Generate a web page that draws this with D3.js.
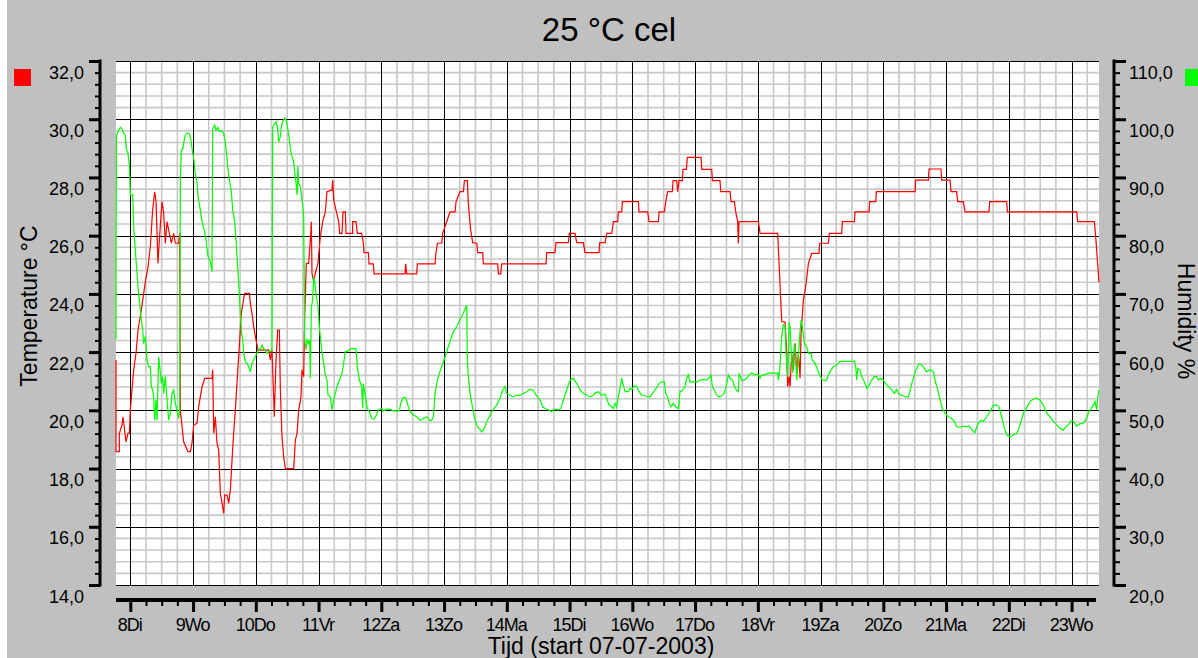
<!DOCTYPE html>
<html>
<head>
<meta charset="utf-8">
<script src="https://cdn.jsdelivr.net/npm/d3@7"></script>
<style>
  html, body { margin: 0; padding: 0; background: #fff; }
  svg { display: block; }
  text { font-family: "Liberation Sans", Arial, sans-serif; fill: #000; }
</style>
</head>
<body>
<svg id="chart"></svg>
<script>
// Data
const chartTitle = '25 °C cel';
const xTitle = 'Tijd (start 07-07-2003)';
const leftTitle = 'Temperature °C';
const rightTitle = 'Humidity %';

const days = [8, 9, 10, 11, 12, 13, 14, 15, 16, 17, 18, 19, 20, 21, 22, 23];
const dayNames = ['Di', 'Wo', 'Do', 'Vr', 'Za', 'Zo', 'Ma', 'Di', 'Wo', 'Do', 'Vr', 'Za', 'Zo', 'Ma', 'Di', 'Wo'];
const tempTicks = [14, 16, 18, 20, 22, 24, 26, 28, 30, 32];
const humTicks = [20, 30, 40, 50, 60, 70, 80, 90, 100, 110];

// [day of July, temperature °C]
const tempData = [
  [7.772,21.73],[7.772,18.58],[7.825,18.58],[7.825,19.21],[7.868,19.5],[7.884,19.78],[7.931,18.92],[7.963,19.21],[7.985,19.21],
  [8.0,20.01],[8.054,21.39],[8.091,21.96],[8.123,22.76],[8.176,23.45],[8.213,24.02],[8.24,24.42],[8.282,24.93],[8.319,25.62],
  [8.356,26.88],[8.388,27.51],[8.41,27.17],[8.441,25.05],[8.463,25.85],[8.505,27.17],[8.532,26.77],[8.558,25.74],[8.585,26.48],
  [8.622,26.08],[8.654,25.74],[8.691,26.08],[8.718,25.74],[8.771,25.74],[8.787,26.08],[8.797,20.01],[8.85,18.92],[8.92,18.58],
  [8.958,18.58],[8.983,18.87],[9.01,19.5],[9.063,19.55],[9.09,20.13],[9.143,20.81],[9.185,21.1],[9.302,21.1],[9.313,21.39],
  [9.329,19.21],[9.355,19.78],[9.382,18.87],[9.408,18.64],[9.435,17.15],[9.462,16.81],[9.488,16.46],[9.504,17.09],[9.541,17.09],
  [9.568,16.81],[9.594,17.26],[9.621,18.29],[9.647,19.21],[9.674,20.01],[9.7,20.93],[9.743,22.42],[9.769,23.33],[9.796,23.68],
  [9.822,24.02],[9.897,24.02],[9.913,23.68],[9.939,23.33],[9.966,22.87],[10.003,22.42],[10.035,22.07],[10.205,22.07],[10.231,21.73],
  [10.258,22.07],[10.295,19.78],[10.322,21.73],[10.348,22.76],[10.375,22.76],[10.391,20.7],[10.417,19.09],[10.444,18.41],[10.471,18.0],
  [10.604,18.0],[10.63,18.98],[10.657,19.21],[10.683,20.01],[10.72,20.47],[10.736,21.39],[10.763,21.16],[10.779,23.22],[10.805,25.05],
  [10.842,25.05],[10.869,25.85],[10.885,26.48],[10.895,24.71],[10.922,24.42],[10.948,24.71],[10.991,25.05],[11.028,25.97],[11.066,26.48],
  [11.108,26.82],[11.134,27.51],[11.214,27.57],[11.225,27.91],[11.241,27.23],[11.278,26.88],[11.321,26.48],[11.337,26.08],[11.374,26.08],
  [11.39,26.82],[11.427,26.82],[11.438,26.08],[11.543,26.08],[11.543,26.48],[11.597,26.48],[11.618,26.08],[11.687,26.08],[11.714,25.74],
  [11.724,25.42],[11.793,25.42],[11.804,25.03],[11.873,25.03],[11.884,24.69],[12.378,24.69],[12.388,25.03],[12.404,24.69],[12.564,24.69],
  [12.574,25.03],[12.856,25.03],[12.872,25.42],[12.894,25.74],[12.962,25.74],[12.978,26.08],[13.042,26.48],[13.095,26.82],[13.175,26.82],
  [13.191,27.17],[13.254,27.51],[13.308,27.51],[13.324,27.89],[13.371,27.89],[13.387,27.11],[13.424,26.19],[13.456,25.76],[13.52,25.74],
  [13.536,25.42],[13.616,25.42],[13.626,25.03],[13.855,25.03],[13.865,24.69],[13.903,24.69],[13.919,25.03],[14.625,25.03],[14.635,25.42],
  [14.768,25.42],[14.784,25.76],[14.981,25.76],[14.997,26.08],[15.087,26.08],[15.114,25.76],[15.22,25.76],[15.246,25.42],[15.47,25.42],
  [15.48,25.76],[15.566,25.76],[15.592,26.08],[15.672,26.08],[15.699,26.48],[15.767,26.48],[15.778,26.82],[15.831,26.82],[15.842,27.17],
  [16.097,27.17],[16.107,26.82],[16.245,26.82],[16.267,26.48],[16.415,26.48],[16.426,26.82],[16.511,26.82],[16.532,27.17],[16.564,27.51],
  [16.638,27.51],[16.649,27.89],[16.707,27.89],[16.723,27.51],[16.744,27.89],[16.798,27.89],[16.808,28.28],[16.861,28.28],[16.877,28.69],
  [17.095,28.69],[17.106,28.28],[17.265,28.28],[17.276,27.89],[17.398,27.89],[17.409,27.51],[17.557,27.51],[17.573,27.17],[17.626,27.17],
  [17.648,26.82],[17.679,26.48],[17.69,25.74],[17.701,26.48],[18.009,26.48],[18.036,26.08],[18.317,26.08],[18.338,25.05],[18.381,23.05],
  [18.434,23.03],[18.461,21.96],[18.476,20.81],[18.498,21.16],[18.513,20.81],[18.54,21.96],[18.566,21.39],[18.593,22.3],[18.62,21.27],
  [18.646,21.96],[18.662,21.5],[18.673,21.1],[18.689,22.64],[18.726,23.79],[18.763,24.25],[18.806,25.05],[18.859,25.39],[18.976,25.39],
  [18.986,25.74],[19.124,25.74],[19.14,26.08],[19.337,26.08],[19.347,26.48],[19.539,26.48],[19.549,26.82],[19.772,26.82],[19.783,27.17],
  [19.879,27.17],[19.889,27.51],[20.506,27.51],[20.516,27.91],[20.718,27.91],[20.728,28.29],[20.919,28.29],[20.93,27.91],[21.063,27.91],
  [21.079,27.51],[21.169,27.51],[21.185,27.17],[21.275,27.17],[21.302,26.82],[21.684,26.82],[21.695,27.17],[21.966,27.17],[21.977,26.82],
  [23.082,26.82],[23.098,26.48],[23.363,26.48],[23.384,25.97],[23.411,25.16],[23.437,24.4]
];

// [day of July, relative humidity %]
const humData = [
  [7.772,62.2],[7.777,97.0],[7.804,97.9],[7.841,98.6],[7.868,98.4],[7.894,97.6],[7.921,97.3],[7.937,95.0],[7.963,94.1],[7.985,92.1],
  [8.001,87.0],[8.038,87.0],[8.054,81.5],[8.091,75.8],[8.123,71.2],[8.16,67.2],[8.176,65.5],[8.197,63.8],[8.213,61.5],[8.24,62.7],
  [8.266,58.6],[8.293,57.5],[8.319,57.5],[8.335,54.1],[8.356,53.5],[8.372,52.3],[8.388,48.3],[8.41,51.8],[8.426,48.3],[8.452,59.2],
  [8.479,56.4],[8.495,54.6],[8.516,55.8],[8.532,52.9],[8.558,55.8],[8.585,51.8],[8.611,48.3],[8.638,49.5],[8.665,52.9],[8.691,53.5],
  [8.718,51.2],[8.744,50.1],[8.771,48.6],[8.787,50.1],[8.797,89.8],[8.813,94.7],[8.834,94.8],[8.85,95.9],[8.877,97.3],[8.904,97.6],
  [8.941,97.5],[8.967,96.4],[8.983,95.0],[9.01,93.3],[9.036,90.7],[9.063,89.0],[9.079,86.7],[9.116,84.4],[9.143,82.4],[9.185,80.7],
  [9.206,79.3],[9.238,76.4],[9.275,75.5],[9.302,73.8],[9.313,98.4],[9.345,99.0],[9.366,98.1],[9.398,98.6],[9.419,97.9],[9.461,98.0],
  [9.488,97.6],[9.515,95.9],[9.541,93.3],[9.557,91.3],[9.578,89.6],[9.61,87.6],[9.631,84.4],[9.663,82.4],[9.684,79.3],[9.711,74.7],
  [9.737,70.1],[9.753,66.7],[9.769,63.8],[9.791,62.1],[9.807,59.8],[9.833,58.4],[9.86,58.1],[9.886,57.5],[9.913,56.6],[9.939,58.1],
  [9.966,58.6],[9.993,59.3],[10.019,59.8],[10.046,60.5],[10.073,60.6],[10.099,61.2],[10.126,60.6],[10.152,60.2],[10.179,59.8],[10.205,60.1],
  [10.231,60.1],[10.258,60.4],[10.269,98.7],[10.301,99.3],[10.322,99.6],[10.348,98.4],[10.364,96.1],[10.391,97.0],[10.407,98.7],[10.428,99.6],
  [10.46,100.2],[10.481,99.9],[10.513,98.1],[10.534,96.4],[10.566,93.9],[10.603,92.7],[10.619,91.0],[10.641,89.0],[10.657,87.0],[10.673,91.9],
  [10.683,89.0],[10.71,88.4],[10.736,86.1],[10.763,83.5],[10.779,62.1],[10.8,60.4],[10.816,62.1],[10.842,61.5],[10.858,62.1],[10.869,55.5],
  [10.885,67.8],[10.906,68.9],[10.922,73.0],[10.938,72.1],[10.959,70.1],[10.991,67.8],[11.012,64.4],[11.044,60.9],[11.081,58.1],[11.108,56.1],
  [11.134,55.2],[11.15,52.6],[11.188,52.3],[11.214,50.1],[11.241,51.8],[11.267,52.9],[11.294,54.1],[11.321,54.9],[11.347,55.5],[11.374,56.4],
  [11.4,58.1],[11.427,60.1],[11.453,60.1],[11.491,60.5],[11.533,60.6],[11.597,60.6],[11.618,57.5],[11.65,55.2],[11.687,54.1],[11.703,50.3],
  [11.714,54.6],[11.74,52.9],[11.777,50.3],[11.82,49.5],[11.846,48.6],[11.884,48.5],[11.926,49.2],[11.953,50.1],[12.006,50.3],[12.032,49.9],
  [12.085,50.2],[12.139,50.2],[12.192,49.9],[12.288,49.9],[12.309,51.2],[12.351,52.2],[12.394,52.1],[12.431,50.6],[12.458,49.8],[12.51,49.2],
  [12.564,48.9],[12.617,48.3],[12.67,48.6],[12.723,48.9],[12.776,48.2],[12.802,48.3],[12.829,48.9],[12.856,52.9],[12.893,55.2],[12.925,56.4],
  [12.962,57.5],[12.999,58.6],[13.042,60.1],[13.095,61.8],[13.148,63.5],[13.201,64.4],[13.254,65.5],[13.308,66.7],[13.35,67.8],[13.361,67.9],
  [13.371,58.6],[13.387,55.8],[13.414,52.9],[13.424,52.3],[13.456,50.3],[13.494,48.3],[13.531,47.2],[13.573,46.7],[13.6,46.3],[13.626,46.6],
  [13.653,47.2],[13.679,48.1],[13.722,48.9],[13.759,49.8],[13.796,50.3],[13.839,50.9],[13.892,52.1],[13.934,53.5],[13.971,54.1],[13.998,52.9],
  [14.051,52.6],[14.104,52.3],[14.157,52.6],[14.21,52.6],[14.263,52.9],[14.317,53.2],[14.37,53.6],[14.423,53.5],[14.449,52.9],[14.487,52.3],
  [14.529,51.8],[14.572,50.6],[14.609,50.3],[14.662,50.1],[14.715,49.8],[14.768,50.2],[14.821,50.1],[14.859,50.3],[14.901,51.8],[14.954,53.5],
  [15.007,55.2],[15.06,55.5],[15.114,54.6],[15.167,53.5],[15.22,52.9],[15.273,52.6],[15.326,52.3],[15.379,52.6],[15.406,53.0],[15.459,53.2],
  [15.512,52.6],[15.566,52.8],[15.592,52.1],[15.629,50.9],[15.672,50.6],[15.699,50.3],[15.724,51.2],[15.751,50.6],[15.777,52.3],[15.804,53.8],
  [15.83,55.5],[15.857,54.3],[15.884,53.2],[15.937,53.2],[15.963,53.8],[15.99,53.6],[16.032,54.2],[16.07,54.1],[16.096,53.4],[16.149,52.6],
  [16.203,52.5],[16.245,52.3],[16.282,52.3],[16.319,52.9],[16.351,53.4],[16.388,53.9],[16.425,54.6],[16.468,54.9],[16.511,54.9],[16.532,52.9],
  [16.564,52.3],[16.585,51.2],[16.617,50.6],[16.654,51.2],[16.691,50.6],[16.734,50.3],[16.76,53.2],[16.798,53.4],[16.84,54.1],[16.867,55.5],
  [16.893,56.1],[16.92,54.9],[16.973,54.9],[17.026,54.9],[17.079,55.2],[17.132,55.3],[17.185,55.2],[17.239,55.8],[17.255,56.1],[17.276,54.1],
  [17.308,53.5],[17.345,52.6],[17.382,52.3],[17.425,52.5],[17.467,52.9],[17.504,54.6],[17.531,56.1],[17.558,55.5],[17.595,55.2],[17.627,54.1],
  [17.664,53.4],[17.69,53.2],[17.701,56.4],[17.743,55.2],[17.786,55.2],[17.823,55.5],[17.86,56.1],[17.903,56.4],[17.945,56.1],[17.982,56.2],
  [18.009,56.1],[18.036,55.5],[18.062,56.1],[18.115,56.1],[18.168,56.4],[18.221,56.4],[18.275,56.4],[18.317,56.4],[18.328,55.2],[18.354,57.6],
  [18.381,62.7],[18.407,64.7],[18.434,64.4],[18.45,59.8],[18.476,55.8],[18.498,65.1],[18.513,64.4],[18.54,58.6],[18.556,56.4],[18.582,61.4],
  [18.604,59.8],[18.62,55.2],[18.646,58.6],[18.662,62.1],[18.689,65.5],[18.71,64.4],[18.742,61.5],[18.779,60.9],[18.806,59.8],[18.848,59.8],
  [18.869,58.6],[18.912,58.1],[18.954,56.9],[18.992,55.9],[19.029,55.2],[19.071,55.1],[19.098,55.2],[19.124,56.1],[19.167,56.9],[19.204,57.5],
  [19.257,57.8],[19.31,58.4],[19.39,58.4],[19.539,58.4],[19.56,57.5],[19.576,55.2],[19.592,57.2],[19.629,56.9],[19.656,55.8],[19.698,54.9],
  [19.735,53.8],[19.772,54.3],[19.815,55.2],[19.857,55.8],[19.894,55.8],[19.921,55.2],[19.963,55.5],[20.0,55.2],[20.037,54.6],[20.08,54.1],
  [20.133,53.5],[20.175,52.9],[20.213,53.6],[20.239,52.9],[20.282,52.6],[20.319,52.5],[20.356,52.3],[20.399,52.3],[20.425,53.2],[20.452,54.6],
  [20.495,56.1],[20.532,57.2],[20.569,58.0],[20.612,57.8],[20.654,57.2],[20.691,56.6],[20.729,56.9],[20.761,56.9],[20.798,56.6],[20.824,55.2],
  [20.867,53.5],[20.904,51.8],[20.941,50.3],[20.983,49.5],[21.036,48.9],[21.09,48.6],[21.132,48.1],[21.169,47.2],[21.222,47.1],[21.275,47.3],
  [21.329,47.2],[21.366,47.3],[21.398,46.9],[21.435,46.3],[21.461,46.2],[21.488,47.2],[21.514,47.8],[21.557,48.3],[21.594,48.1],[21.647,48.9],
  [21.7,49.8],[21.753,50.9],[21.806,50.9],[21.844,50.6],[21.886,48.9],[21.929,46.9],[21.966,45.8],[22.019,45.4],[22.072,45.8],[22.125,46.0],
  [22.152,46.6],[22.194,48.1],[22.231,49.5],[22.285,50.5],[22.338,51.5],[22.391,51.9],[22.444,52.1],[22.497,51.8],[22.55,50.9],[22.603,49.5],
  [22.656,48.9],[22.709,48.1],[22.763,47.5],[22.816,46.9],[22.869,46.6],[22.906,47.2],[22.949,47.5],[22.991,48.2],[23.028,48.1],[23.082,47.3],
  [23.135,47.7],[23.172,47.7],[23.214,48.1],[23.257,49.2],[23.294,50.1],[23.331,50.6],[23.374,51.5],[23.4,50.1],[23.416,52.3],[23.437,53.5]
];

// Layout
const width = 1198;
const height = 658;
const plot = { left: 116, right: 1099, top: 61, bottom: 585 };

const svg = d3.select('#chart')
  .attr('width', width)
  .attr('height', height);

// background
svg.append('rect').attr('width', width).attr('height', height).attr('fill', '#fff');
svg.append('rect').attr('x', 7).attr('y', 0).attr('width', width - 7).attr('height', height).attr('fill', '#c0c0c0');

// Scales
const x = d3.scaleLinear().domain([7.772, 23.437]).range([plot.left, plot.right]);
const yT = d3.scaleLinear().domain([14, 32]).range([plot.bottom, plot.top]);
const yH = d3.scaleLinear().domain([20, 110]).range([plot.bottom, plot.top]);

const fmt = d => d.toFixed(1).replace('.', ',');

// Plot area
svg.append('rect')
  .attr('x', plot.left).attr('y', plot.top)
  .attr('width', plot.right - plot.left).attr('height', plot.bottom - plot.top)
  .attr('fill', '#fff');

const grid = svg.append('g');
const minorX = d3.range(7.75, 23.5, 0.25).filter(d => x(d) > plot.left + 1 && x(d) < plot.right - 1 && d % 1 !== 0);
const minorY = d3.range(0, 46).map(i => 14 + i * 0.4).filter(v => Math.abs(v % 2) > 0.01 && Math.abs(v % 2 - 2) > 0.01);

grid.selectAll('.gx').data(minorX).enter().append('line')
  .attr('x1', d => x(d)).attr('x2', d => x(d))
  .attr('y1', plot.top).attr('y2', plot.bottom)
  .attr('stroke', '#c8c8c8').attr('stroke-width', 1.6);
grid.selectAll('.gy').data(minorY).enter().append('line')
  .attr('x1', plot.left).attr('x2', plot.right)
  .attr('y1', d => yT(d)).attr('y2', d => yT(d))
  .attr('stroke', '#c8c8c8').attr('stroke-width', 1.6);
grid.selectAll('.mx').data(days).enter().append('line')
  .attr('x1', d => Math.round(x(d)) + 0.5).attr('x2', d => Math.round(x(d)) + 0.5)
  .attr('y1', plot.top).attr('y2', plot.bottom)
  .attr('stroke', '#000').attr('stroke-width', 1);
grid.selectAll('.my').data(tempTicks).enter().append('line')
  .attr('x1', plot.left).attr('x2', plot.right)
  .attr('y1', d => Math.round(yT(d)) + 0.5).attr('y2', d => Math.round(yT(d)) + 0.5)
  .attr('stroke', '#000').attr('stroke-width', 1);

// Series
const tempLine = d3.line().x(d => x(d[0])).y(d => yT(d[1]));
const humLine = d3.line().x(d => x(d[0])).y(d => yH(d[1]));

svg.append('path').datum(tempData)
  .attr('d', tempLine).attr('fill', 'none')
  .attr('stroke', '#ff0000').attr('stroke-width', 1.2);
svg.append('path').datum(humData)
  .attr('d', humLine).attr('fill', 'none')
  .attr('stroke', '#00ff00').attr('stroke-width', 1.2);

// Left axis
const leftAxis = svg.append('g').attr('transform', 'translate(100,0)');
leftAxis.append('g')
  .call(d3.axisLeft(yT).tickValues(d3.range(0, 46).map(i => 14 + i * 0.4)).tickSize(5).tickFormat(''))
  .call(g => g.selectAll('.tick line').attr('stroke-width', 2));
leftAxis.append('g')
  .call(d3.axisLeft(yT).tickValues(tempTicks).tickSize(11).tickFormat(fmt))
  .call(g => g.selectAll('.tick line').attr('stroke-width', 3))
  .call(g => g.selectAll('.tick text').attr('x', -16).attr('y', 17).attr('dy', null)
    .style('font-size', '18px').style('font-family', '"Liberation Sans", Arial, sans-serif'));
leftAxis.selectAll('.domain').remove();
leftAxis.append('line').attr('x1', 0).attr('x2', 0).attr('y1', plot.top - 1.5).attr('y2', plot.bottom + 1.5)
  .attr('stroke', '#000').attr('stroke-width', 3);

// Right axis
const rightAxis = svg.append('g').attr('transform', 'translate(1114,0)');
rightAxis.append('g')
  .call(d3.axisRight(yH).tickValues(d3.range(0, 46).map(i => 20 + i * 2)).tickSize(6).tickFormat(''))
  .call(g => g.selectAll('.tick line').attr('stroke-width', 2));
rightAxis.append('g')
  .call(d3.axisRight(yH).tickValues(humTicks).tickSize(12).tickFormat(fmt))
  .call(g => g.selectAll('.tick line').attr('stroke-width', 3))
  .call(g => g.selectAll('.tick text').attr('x', 15).attr('y', 17).attr('dy', null)
    .style('font-size', '18px').style('font-family', '"Liberation Sans", Arial, sans-serif'));
rightAxis.selectAll('.domain').remove();
rightAxis.append('line').attr('x1', 0).attr('x2', 0).attr('y1', plot.top - 1.5).attr('y2', plot.bottom + 1.5)
  .attr('stroke', '#000').attr('stroke-width', 3);

// Bottom axis
const bottomAxis = svg.append('g').attr('transform', 'translate(0,600)');
bottomAxis.append('g')
  .call(d3.axisBottom(x).tickValues(d3.range(8, 23.44, 0.25)).tickSize(6).tickFormat(''))
  .call(g => g.selectAll('.tick line').attr('stroke-width', 2));
bottomAxis.append('g')
  .call(d3.axisBottom(x).tickValues(days).tickSize(12).tickFormat((d, i) => d + dayNames[i]))
  .call(g => g.selectAll('.tick line').attr('stroke-width', 3))
  .call(g => g.selectAll('.tick text').attr('y', 31).attr('dy', null).attr('dx', -1)
    .style('font-size', '18px').style('letter-spacing', '-1px')
    .style('font-family', '"Liberation Sans", Arial, sans-serif'));
bottomAxis.selectAll('.domain').remove();
bottomAxis.append('line').attr('x1', plot.left).attr('x2', 1096).attr('y1', 0).attr('y2', 0)
  .attr('stroke', '#000').attr('stroke-width', 4);

// Titles
svg.append('text').attr('x', 609).attr('y', 41).attr('text-anchor', 'middle')
  .style('font-size', '33px').text(chartTitle);
svg.append('text').attr('transform', 'translate(37,306) rotate(-90)').attr('text-anchor', 'middle')
  .style('font-size', '23px').text(leftTitle);
svg.append('text').attr('transform', 'translate(1178,321) rotate(90)').attr('text-anchor', 'middle')
  .style('font-size', '23px').text(rightTitle);
svg.append('text').attr('x', 601).attr('y', 654).attr('text-anchor', 'middle')
  .style('font-size', '23px').text(xTitle);

// Legend squares
svg.append('rect').attr('x', 14).attr('y', 69).attr('width', 17).attr('height', 17).attr('fill', '#ff0000');
svg.append('rect').attr('x', 1185).attr('y', 69).attr('width', 17).attr('height', 17).attr('fill', '#00ff00');
</script>
</body>
</html>
